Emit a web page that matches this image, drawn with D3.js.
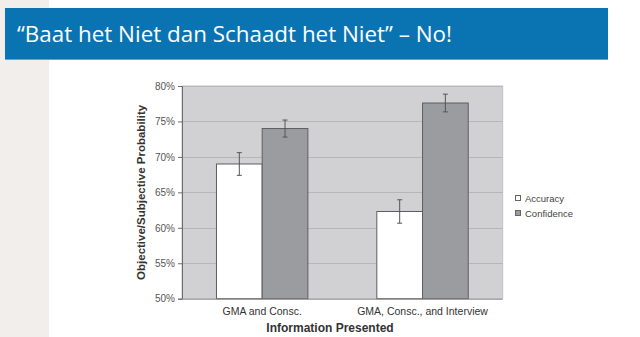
<!DOCTYPE html>
<html><head><meta charset="utf-8">
<script src="https://cdn.jsdelivr.net/npm/d3@7"></script>
<style>body{margin:0;background:#fff}svg{display:block}</style>
</head><body>
<svg id="c" width="640" height="337"></svg>
<script>
const categories = ["GMA and Consc.", "GMA, Consc., and Interview"];
const seriesNames = ["Accuracy", "Confidence"];
const accuracy = [69.0, 62.3];
const confidence = [74.0, 77.6];
const accuracyErr = [1.6, 1.65];
const confidenceErr = [1.2, 1.25];
const yTicks = [50, 55, 60, 65, 70, 75, 80];
const title = "\u201cBaat het Niet dan Schaadt het Niet\u201d \u2013 No!";

const svg = d3.select("#c");
svg.append("rect").attr("x",0).attr("y",0).attr("width",49).attr("height",337).attr("fill","#f2eeeb");
svg.append("rect").attr("x",5).attr("y",8).attr("width",603).attr("height",51).attr("fill","#0a74b3");
svg.append("line").attr("x1",5).attr("x2",608).attr("y1",59.5).attr("y2",59.5).attr("stroke","#5aa6d6").attr("stroke-width",1);
svg.append("text").attr("x",17).attr("y",42).attr("fill","#fff")
  .attr("font-family","'Open Sans', sans-serif").attr("font-size",21)
  .attr("textLength",435).attr("lengthAdjust","spacingAndGlyphs").text(title);

const m = {l:182, t:86, r:502.7, b:298.7};
const y = d3.scaleLinear().domain([50,80]).range([m.b, m.t]);
const x0 = d3.scaleBand().domain(categories).range([m.l, m.r]).paddingInner(0.43).paddingOuter(0.215);
const x1 = d3.scaleBand().domain(seriesNames).range([0, x0.bandwidth()]);
const fills = {Accuracy:"#ffffff", Confidence:"#9b9c9f"};

svg.append("rect").attr("x",m.l).attr("y",m.t).attr("width",m.r-m.l).attr("height",m.b-m.t)
  .attr("fill","#d1d1d3").attr("stroke","#c4c4c6");
svg.append("g").selectAll("line").data(yTicks.slice(1)).join("line")
  .attr("x1",m.l).attr("x2",m.r).attr("y1",d=>Math.round(y(d))+0.5).attr("y2",d=>Math.round(y(d))+0.5)
  .attr("stroke","#b6b6b8").attr("stroke-width",1);

const data = categories.map((c,i)=>({c, vals:[
  {s:"Accuracy", v:accuracy[i], e:accuracyErr[i]},
  {s:"Confidence", v:confidence[i], e:confidenceErr[i]}]}));

const g = svg.append("g").selectAll("g").data(data).join("g")
  .attr("transform", d=>`translate(${x0(d.c)},0)`);
g.selectAll("rect").data(d=>d.vals).join("rect")
  .attr("x", d=>x1(d.s)).attr("width", x1.bandwidth())
  .attr("y", d=>y(d.v)).attr("height", d=>y(50)-y(d.v))
  .attr("fill", d=>fills[d.s]).attr("stroke","#5e5e60").attr("stroke-width",1);
const eb = g.selectAll("g.eb").data(d=>d.vals).join("g").attr("class","eb");
eb.append("line").attr("x1",d=>x1(d.s)+x1.bandwidth()/2).attr("x2",d=>x1(d.s)+x1.bandwidth()/2)
  .attr("y1",d=>y(d.v+d.e)).attr("y2",d=>y(d.v-d.e)).attr("stroke","#555").attr("stroke-width",1);
[1,-1].forEach(sg=>{
  eb.append("line").attr("x1",d=>x1(d.s)+x1.bandwidth()/2-2.5).attr("x2",d=>x1(d.s)+x1.bandwidth()/2+2.5)
    .attr("y1",d=>y(d.v+sg*d.e)).attr("y2",d=>y(d.v+sg*d.e)).attr("stroke","#555").attr("stroke-width",1);
});

const ya = d3.axisLeft(y).tickValues(yTicks).tickFormat(d=>d+"%").tickSize(4).tickPadding(3);
const yg = svg.append("g").attr("transform",`translate(${m.l},0)`).call(ya);
yg.select(".domain").attr("stroke","#6b6b6b");
yg.selectAll(".tick line").attr("stroke","#6b6b6b");
yg.selectAll("text").attr("font-family","'Liberation Sans', Arial, sans-serif").attr("font-size",10).attr("fill","#555");
svg.append("line").attr("x1",m.l).attr("x2",m.r).attr("y1",m.b+0.5).attr("y2",m.b+0.5).attr("stroke","#8a8a8a");
const xa = d3.axisBottom(x0).tickSize(0).tickPadding(9);
const xg = svg.append("g").attr("transform",`translate(0,${m.b})`).call(xa);
xg.select(".domain").remove();
xg.selectAll("text").attr("font-family","'Liberation Sans', Arial, sans-serif").attr("font-size",10.5).attr("fill","#333");

svg.append("text").attr("transform",`translate(145,${(m.t+m.b)/2}) rotate(-90)`).attr("text-anchor","middle")
  .attr("font-family","'Liberation Sans', Arial, sans-serif").attr("font-weight","bold").attr("font-size",11.5).attr("fill","#333")
  .text("Objective/Subjective Probability");
svg.append("text").attr("x",330).attr("y",332).attr("text-anchor","middle")
  .attr("font-family","'Liberation Sans', Arial, sans-serif").attr("font-weight","bold").attr("font-size",12).attr("fill","#333")
  .text("Information Presented");

const lg = svg.append("g").selectAll("g").data(seriesNames).join("g")
  .attr("transform",(d,i)=>`translate(515,${195+i*15})`);
lg.append("rect").attr("x",0.5).attr("y",0.5).attr("width",5).attr("height",5)
  .attr("fill",d=>fills[d]).attr("stroke","#666");
lg.append("text").attr("x",10).attr("y",6.5).attr("font-family","'Liberation Sans', Arial, sans-serif")
  .attr("font-size",9.5).attr("fill","#444").text(d=>d);
</script>
</body></html>
